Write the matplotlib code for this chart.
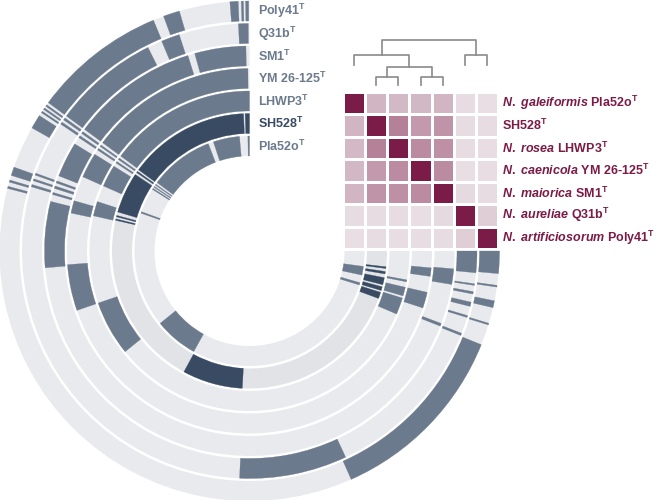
import numpy as np
import matplotlib.pyplot as plt
from matplotlib.patches import Wedge
from matplotlib.colors import LinearSegmentedColormap

plt.rcParams['mathtext.fontset'] = 'custom'
plt.rcParams['mathtext.rm'] = 'Liberation Sans:bold'
plt.rcParams['mathtext.it'] = 'Liberation Sans:italic:bold'
plt.rcParams['mathtext.bf'] = 'Liberation Sans:bold'
plt.rcParams['font.family'] = 'Liberation Sans'

# genomes, inner ring -> outer ring (same order as heatmap rows/cols)
genomes = ["Pla52o", "SH528", "LHWP3", "YM 26-125", "SM1", "Q31b", "Poly41"]
species = ["N. galeiformis", "", "N. rosea", "N. caenicola", "N. maiorica",
           "N. aureliae", "N. artificiosorum"]

# gene cluster blocks present in each genome (degrees along the 270 deg arc,
# 0 = top, counting anticlockwise)
pla52o = [(0, 0.8), (5, 18.3), (21, 53.5), (54.5, 55), (55.8, 56.3), (57, 57.6),
          (70, 70.8), (129, 151), (252.8, 254), (257.9, 262.3)]
sh528 = [(0, 1.8), (2.5, 53.8), (54.6, 55.2), (56.2, 73.5), (75, 75.6), (76.5, 77.1),
         (151.5, 177), (249.8, 252.5), (253.3, 254.9), (255.8, 258.8),
         (260.4, 261.4), (262.7, 263.4)]
lhwp3 = [(0, 53.6), (54.5, 55.1), (56, 56.6), (58, 66), (72, 77.3), (109, 129),
         (246.8, 252.9), (253.7, 256.9), (258.9, 259.6)]
ym = [(0.5, 53.6), (54.5, 55), (55.8, 56.4), (58, 66), (74, 78), (94.3, 109),
      (251.8, 256.9), (262, 264.7)]
sm1 = [(1, 15.5), (17.5, 53.6), (54.4, 55), (55.8, 56.4), (58.5, 68.5), (70, 70.6),
       (71.5, 72.2), (73.4, 74), (76, 94.7), (248.5, 249.3), (260.6, 265)]
q31b = [(0.3, 2.8), (18, 22.7), (26.5, 53.6), (54.2, 54.8), (55.5, 56.1),
        (70, 70.5), (71.5, 72), (73, 73.6), (177.5, 205), (248.2, 248.8),
        (253, 253.5), (255.9, 257), (259.1, 259.7), (261.3, 261.7), (264.5, 270)]
poly41 = [(0.2, 0.9), (1.4, 1.9), (2.6, 4.5), (16.3, 20.1), (22.6, 53.6),
          (54.2, 54.6), (55.1, 55.5), (56, 56.4), (57.2, 60.5), (70.4, 72.4),
          (73.5, 74), (75, 75.5), (204, 248), (252.8, 253.2), (256.9, 258.5),
          (261.7, 262.1), (264.8, 270)]
rings = [pla52o, sh528, lhwp3, ym, sm1, q31b, poly41]

# average nucleotide identity (%)
ani = np.array([
    [100.0, 77.5, 77.0, 77.2, 77.5, 71.8, 71.6],
    [77.5, 100.0, 85.0, 81.6, 82.2, 71.8, 71.8],
    [77.0, 85.0, 100.0, 83.6, 82.8, 71.8, 71.7],
    [77.2, 81.6, 83.6, 100.0, 83.6, 71.6, 71.7],
    [77.5, 82.2, 82.8, 83.6, 100.0, 72.0, 71.8],
    [71.8, 71.8, 71.8, 71.6, 72.0, 100.0, 73.8],
    [71.6, 71.8, 71.7, 71.7, 71.8, 73.8, 100.0],
])

# dendrogram merges (child a, child b, height); leaves are 0..6
merges = [(1, 2, 8), (3, 4, 8), (7, 8, 18), (0, 9, 30), (5, 6, 30), (10, 11, 45)]
leaf_tip = [20, 0, 0, 0, 0, 20, 20]

slate = '#6b7a8c'
navy = '#384b63'
maroon = '#7b1b47'

fig = plt.figure(figsize=(6.61, 5.0), dpi=100)
ax = fig.add_axes([0, 0, 1, 1])
ax.set_xlim(0, 661)
ax.set_ylim(0, 500)
ax.axis('off')

cx, cy = 249.5, 249
r0, step, w = 95, 22.5, 20
for i, segs in enumerate(rings):
    rin = r0 + i * step
    bg = '#e1e3e7' if i == 1 else '#e8eaee'
    fc = navy if i == 1 else slate
    ax.add_patch(Wedge((cx, cy), rin + w, 90, 360, width=w, facecolor=bg, lw=0))
    for s, e in segs:
        ax.add_patch(Wedge((cx, cy), rin + w, 90 + s, 90 + e, width=w,
                           facecolor=fc, edgecolor=fc, lw=0.2))
    ax.text(cx + 8, cy + rin + w / 2, genomes[i] + r"$^\mathrm{T}$",
            color=navy if i == 1 else slate, fontsize=9, fontweight='bold',
            ha='left', va='center')

# heatmap
cmap = LinearSegmentedColormap.from_list('ani', ['#eee8ec', maroon])
axh = fig.add_axes([343 / 661, (500 - 249) / 500, 155 / 661, 157 / 500])
axh.pcolormesh(ani, cmap=cmap, vmin=70, vmax=100, edgecolors='white', linewidth=2)
axh.set_xlim(0, 7)
axh.set_ylim(7, 0)
axh.axis('off')
for i in range(7):
    if species[i]:
        name = r"$\it{" + species[i].replace(" ", r"\ ") + r"}$ "
    else:
        name = ""
    axh.text(7.2, i + 0.5, name + genomes[i] + r"$^\mathrm{T}$", color=maroon,
             fontsize=9, fontweight='bold', ha='left', va='center')

# dendrogram
axd = fig.add_axes([343 / 661, (500 - 90) / 500, 155 / 661, 55 / 500])
axd.set_xlim(0, 7)
axd.set_ylim(-5, 50)
axd.axis('off')
pos = {i: (i + 0.5, leaf_tip[i]) for i in range(7)}
for k, (a, b, h) in enumerate(merges):
    xa, ha_ = pos[a]
    xb, hb = pos[b]
    axd.plot([xa, xa, xb, xb], [ha_, h, h, hb], color='#8a8a8a', lw=1.2)
    pos[7 + k] = ((xa + xb) / 2, h)

fig.savefig('out.png', dpi=100)
